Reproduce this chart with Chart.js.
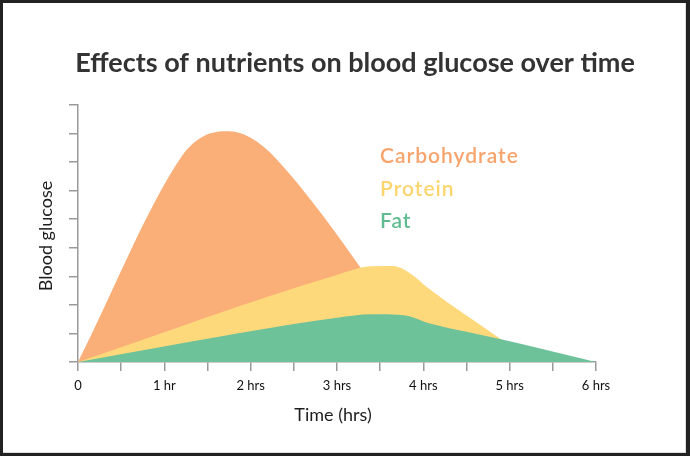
<!DOCTYPE html>
<html>
<head>
<meta charset="utf-8">
<script src="https://cdn.jsdelivr.net/npm/chart.js@4.4.1/dist/chart.umd.min.js"></script>
<style>
  html, body { margin: 0; padding: 0; background: #222; }
  #frame { position: absolute; left: 3px; top: 3px; width: 683px; height: 450px; background: #fff; border-right: 1px solid #ddd; border-bottom: 1px solid #ddd; box-sizing: border-box; }
  #wrap { position: absolute; left: 0; top: 0; width: 690px; height: 456px; }
</style>
</head>
<body>
<div id="frame"></div>
<div id="wrap"><canvas id="c" width="690" height="456"></canvas></div>
<script>
// ---- data (hours, relative blood glucose) ----
const carbHours   = [0, 1.2, 1.45, 1.75, 2.0, 2.3, 4.05];
const carbValues  = [0, 7.2, 7.9, 8.08, 7.85, 7.1, 0];
const proteinHours  = [0, 3.0, 3.4, 3.65, 3.85, 4.05, 4.9];
const proteinValues = [0, 3.05, 3.35, 3.36, 3.1, 2.6, 0.8];
const fatHours  = [0, 2.5, 3.0, 3.4, 3.75, 4.1, 4.9, 6.0];
const fatValues = [0, 1.33, 1.55, 1.67, 1.65, 1.33, 0.8, 0];
const xTickLabels = ['0', '1 hr', '2 hrs', '3 hrs', '4 hrs', '5 hrs', '6 hrs'];
const seriesNames = ['Carbohydrate', 'Protein', 'Fat'];

const fillColors = ['#FAAE78', '#FED97C', '#6EC29A'];
const textColors = ['#F7A46C', '#FDD56E', '#62BC91'];

function pts(xs, ys) { return xs.map((x, i) => ({ x: x, y: ys[i] })); }

const textPlugin = {
  id: 'texts',
  afterDraw(chart) {
    const ctx = chart.ctx;
    ctx.save();
    ctx.textAlign = 'center';
    ctx.textBaseline = 'alphabetic';
    ctx.fillStyle = '#333';
    ctx.font = 'bold 27px Lato';
    ctx.fillText('Effects of nutrients on blood glucose over time', 355, 72);

    ctx.fillStyle = '#1e1e1e';
    ctx.font = '18px Lato';
    ctx.fillText('Time (hrs)', 333, 421);

    ctx.save();
    ctx.translate(52, 236);
    ctx.rotate(-Math.PI / 2);
    ctx.fillText('Blood glucose', 0, 0);
    ctx.restore();

    ctx.textAlign = 'left';
    ctx.font = '600 21px Lato';
    ctx.letterSpacing = '1px';
    const baselines = [163, 196, 228];
    seriesNames.forEach((n, i) => {
      ctx.fillStyle = textColors[i];
      ctx.fillText(n, 380, baselines[i]);
    });
    ctx.restore();
  }
};

new Chart(document.getElementById('c'), {
  type: 'line',
  data: {
    datasets: [
      { label: seriesNames[0], data: pts(carbHours, carbValues), backgroundColor: fillColors[0], borderWidth: 0, fill: 'origin', order: 3, pointRadius: 0, cubicInterpolationMode: 'monotone' },
      { label: seriesNames[1], data: pts(proteinHours, proteinValues), backgroundColor: fillColors[1], borderWidth: 0, fill: 'origin', order: 2, pointRadius: 0, cubicInterpolationMode: 'monotone' },
      { label: seriesNames[2], data: pts(fatHours, fatValues), backgroundColor: fillColors[2], borderWidth: 0, fill: 'origin', order: 1, pointRadius: 0, cubicInterpolationMode: 'monotone' }
    ]
  },
  options: {
    responsive: false,
    animation: false,
    layout: { padding: { left: 0, right: 94, top: 105, bottom: 0 } },
    plugins: { legend: { display: false }, tooltip: { enabled: false }, title: { display: false } },
    scales: {
      x: {
        type: 'linear', min: 0, max: 6,
        afterFit(s) { s.height = 94; },
        afterBuildTicks(s) { s.ticks = [0,0.5,1,1.5,2,2.5,3,3.5,4,4.5,5,5.5,6].map(v => ({ value: v })); },
        ticks: { autoSkip: false, maxRotation: 0, padding: 7, color: '#111', font: { family: 'Lato', size: 13 },
          callback(v) { return Number.isInteger(v) ? xTickLabels[v] : ''; } },
        grid: { drawOnChartArea: false, drawTicks: true, tickLength: 9, color: '#9a9a9a', lineWidth: 1.5 },
        border: { display: true, color: '#9a9a9a', width: 1.5 }
      },
      y: {
        min: 0, max: 9,
        afterFit(s) { s.width = 78; },
        ticks: { stepSize: 1, callback() { return ''; } },
        grid: { drawOnChartArea: false, drawTicks: true, tickLength: 9, color: '#9a9a9a', lineWidth: 1.5 },
        border: { display: true, color: '#9a9a9a', width: 1.5 }
      }
    }
  },
  plugins: [textPlugin]
});
</script>
</body>
</html>
